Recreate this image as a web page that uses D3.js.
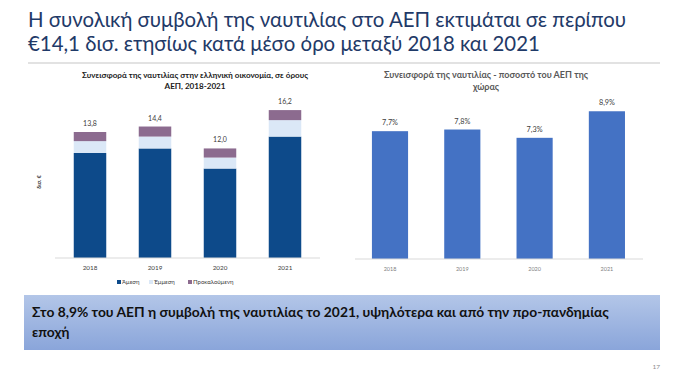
<!DOCTYPE html>
<html>
<head>
<meta charset="utf-8">
<script src="https://cdn.jsdelivr.net/npm/d3@7"></script>
<style>
  body { margin: 0; background: #fff; }
  svg { display: block; font-family: Lato, "Open Sans", sans-serif; }
</style>
</head>
<body>
<svg id="slide" width="689" height="375"></svg>
<script>
// data
var years = ["2018", "2019", "2020", "2021"];
var direct = [11.5, 12.0, 9.8, 13.3];
var indirect = [1.3, 1.3, 1.2, 1.8];
var induced = [1.0, 1.1, 1.0, 1.1];
var totals = ["13,8", "14,4", "12,0", "16,2"];
var seriesNames = ["Άμεση", "Έμμεση", "Προκαλούμενη"];
var seriesColors = ["#0d4a8a", "#dbe8f7", "#8c6b8f"];
var gdpShare = [7.7, 7.8, 7.3, 8.9];

var svg = d3.select("#slide");

// headline
var title = svg.append("text")
	.attr("x", 28)
	.attr("y", 27)
	.attr("fill", "#1f3a68")
	.style("font-family", "Lato")
	.style("font-size", "20.4px");
title.append("tspan").attr("x", 28).attr("dy", 0)
	.text("Η συνολική συμβολή της ναυτιλίας στο ΑΕΠ εκτιμάται σε περίπου");
title.append("tspan").attr("x", 28).attr("dy", 24)
	.text("€14,1 δισ. ετησίως κατά μέσο όρο μεταξύ 2018 και 2021");

svg.append("line")
	.attr("x1", 28).attr("x2", 660)
	.attr("y1", 63).attr("y2", 63)
	.attr("stroke", "#d9d9d9")
	.attr("stroke-width", 1.5);

// ---- left chart: stacked bars ----
var stackRows = years.map(function(y, i) {
	return { year: y, "Άμεση": direct[i], "Έμμεση": indirect[i], "Προκαλούμενη": induced[i] };
});
var stacked = d3.stack().keys(seriesNames)(stackRows);

var xL = d3.scaleBand().domain(years).range([57.5, 317.5])
	.paddingInner(0.5).paddingOuter(0.25);
var yL = d3.scaleLinear().domain([0, 18]).range([258, 258 - 18 * 9.13]);

var lt = svg.append("text")
	.attr("text-anchor", "middle")
	.attr("font-weight", "bold")
	.style("font-size", "8.1px")
	.attr("fill", "#1a1a1a");
lt.append("tspan").attr("x", 195).attr("y", 78)
	.text("Συνεισφορά της ναυτιλίας στην ελληνική οικονομία, σε όρους");
lt.append("tspan").attr("x", 195).attr("y", 89)
	.text("ΑΕΠ, 2018-2021");

svg.append("text")
	.attr("transform", "translate(41,182) rotate(-90)")
	.attr("text-anchor", "middle")
	.attr("font-weight", "bold")
	.style("font-size", "5.5px")
	.attr("fill", "#333")
	.text("δισ. €");

svg.append("g").selectAll("g")
	.data(stacked)
	.join("g")
	.attr("fill", function(d, i) { return seriesColors[i]; })
	.selectAll("rect")
	.data(function(d) { return d; })
	.join("rect")
	.attr("x", function(d) { return xL(d.data.year); })
	.attr("width", xL.bandwidth())
	.attr("y", function(d) { return yL(d[1]); })
	.attr("height", function(d) { return yL(d[0]) - yL(d[1]); });

svg.append("g").selectAll("text")
	.data(stacked[2])
	.join("text")
	.attr("x", function(d) { return xL(d.data.year) + xL.bandwidth() / 2; })
	.attr("y", function(d) { return yL(d[1]) - 6; })
	.attr("text-anchor", "middle")
	.style("font-size", "7px")
	.attr("fill", "#404040")
	.text(function(d, i) { return totals[i]; });

var axL = svg.append("g")
	.attr("transform", "translate(0,258)")
	.call(d3.axisBottom(xL).tickSize(0).tickPadding(8));
axL.select(".domain").attr("d", "M55,0H320").attr("stroke", "#d9d9d9");
axL.selectAll("text").style("font-size", "6.3px").attr("fill", "#404040")
	.style("font-family", "Lato");

var legend = svg.append("g").attr("transform", "translate(0,284)");
var legendX = [117, 149, 188];
seriesNames.forEach(function(name, i) {
	legend.append("rect")
		.attr("x", legendX[i]).attr("y", -4)
		.attr("width", 4).attr("height", 4)
		.attr("fill", seriesColors[i]);
	legend.append("text")
		.attr("x", legendX[i] + 5).attr("y", 0)
		.style("font-size", "6px")
		.attr("fill", "#404040")
		.text(name);
});

// ---- right chart: share of GDP ----
var xR = d3.scaleBand().domain(years).range([353.85, 643.05])
	.paddingInner(0.5).paddingOuter(0.25);
var yR = d3.scaleLinear().domain([0, 10]).range([259, 259 - 166]);

var rt = svg.append("text")
	.attr("text-anchor", "middle")
	.attr("font-weight", "bold")
	.style("font-size", "9px")
	.attr("fill", "#595959");
rt.append("tspan").attr("x", 486).attr("y", 78)
	.text("Συνεισφορά της ναυτιλίας - ποσοστό του ΑΕΠ της");
rt.append("tspan").attr("x", 486).attr("y", 90)
	.text("χώρας");

svg.append("g").selectAll("rect")
	.data(gdpShare)
	.join("rect")
	.attr("x", function(d, i) { return xR(years[i]); })
	.attr("width", xR.bandwidth())
	.attr("y", function(d) { return yR(d); })
	.attr("height", function(d) { return yR(0) - yR(d); })
	.attr("fill", "#4472c4");

svg.append("g").selectAll("text")
	.data(gdpShare)
	.join("text")
	.attr("x", function(d, i) { return xR(years[i]) + xR.bandwidth() / 2; })
	.attr("y", function(d) { return yR(d) - 6; })
	.attr("text-anchor", "middle")
	.style("font-size", "7.3px")
	.attr("fill", "#404040")
	.text(function(d) { return d3.format(".1f")(d).replace(".", ",") + "%"; });

var axR = svg.append("g")
	.attr("transform", "translate(0,259)")
	.call(d3.axisBottom(xR).tickSize(0).tickPadding(8));
axR.select(".domain").attr("d", "M355,0H643").attr("stroke", "#d9d9d9");
axR.selectAll("text").style("font-size", "5.5px").attr("fill", "#7f7f7f")
	.style("font-family", "Lato");

// ---- takeaway box ----
var grad = svg.append("defs").append("linearGradient")
	.attr("id", "boxGrad")
	.attr("x1", 0).attr("y1", 0).attr("x2", 0).attr("y2", 1);
grad.append("stop").attr("offset", "0%").attr("stop-color", "#b3c6e8");
grad.append("stop").attr("offset", "100%").attr("stop-color", "#8aa5da");

svg.append("rect")
	.attr("x", 24).attr("y", 295)
	.attr("width", 636).attr("height", 55)
	.attr("fill", "url(#boxGrad)");

var bt = svg.append("text")
	.attr("font-weight", "bold")
	.style("font-size", "13.8px")
	.attr("fill", "#111");
bt.append("tspan").attr("x", 32).attr("y", 317)
	.text("Στο 8,9% του ΑΕΠ η συμβολή της ναυτιλίας το 2021, υψηλότερα και από την προ-πανδημίας");
bt.append("tspan").attr("x", 32).attr("y", 337)
	.text("εποχή");

svg.append("text")
	.attr("x", 660).attr("y", 369)
	.attr("text-anchor", "end")
	.style("font-size", "6.5px")
	.attr("fill", "#8c8c8c")
	.text("17");
</script>
</body>
</html>
